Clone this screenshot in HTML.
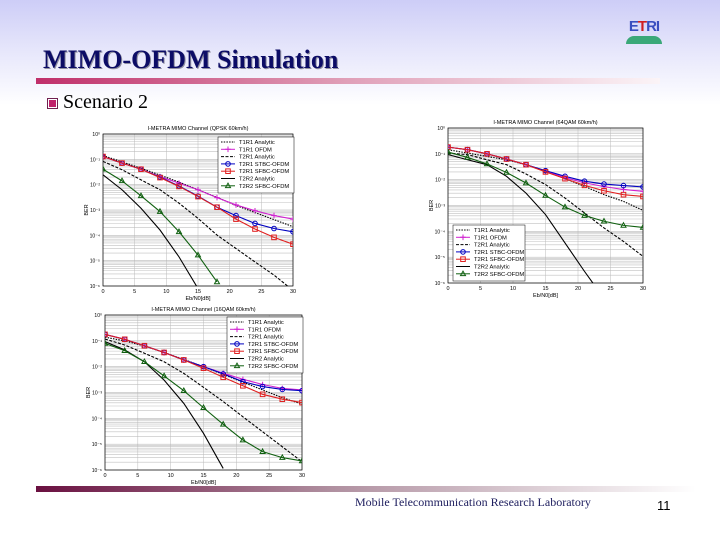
<!DOCTYPE html>
<html><head><meta charset="utf-8"><style>
body{margin:0;width:720px;height:540px;overflow:hidden;position:relative;background:linear-gradient(#cdcdf7 0px,#e6e6fb 50px,#fff 105px,#fff);font-family:"Liberation Serif",serif}
.abs{position:absolute}
</style></head><body>
<div class="abs" style="left:624px;top:20px;width:40px;height:24px">
 <div style="font:bold 15px 'Liberation Sans',sans-serif;color:#3a4fc0;letter-spacing:-1px;text-align:center;line-height:14px">E<span style="color:#d02020">T</span>RI</div>
 <div style="margin:2px auto 0;width:36px;height:8px;background:#3aa878;border-radius:18px 18px 0 0"></div>
</div>
<div class="abs" style="left:43px;top:45px;font:bold 26px 'Liberation Serif',serif;color:#0c0c66;text-shadow:1px 1px 0 #9090a0;white-space:nowrap">MIMO-OFDM Simulation</div>
<div class="abs" style="left:36px;top:78px;width:624px;height:6px;background:linear-gradient(90deg,#c02f6a,#e0a0b8 50%,#fbf4f7)"></div>
<div class="abs" style="left:47px;top:98px;width:9px;height:9px;border:1px solid #702050;background:#c0206a;box-shadow:inset 0 0 0 1px #fff"></div>
<div class="abs" style="left:63px;top:91px;font:20px 'Liberation Serif',serif;color:#000">Scenario 2</div>
<div class="abs" style="left:36px;top:486px;width:660px;height:6px;background:linear-gradient(90deg,#6a1040,#b090a0 45%,#fff)"></div>
<div class="abs" style="left:355px;top:495px;font:12px 'Liberation Serif',serif;color:#202060;white-space:nowrap">Mobile Telecommunication Research Laboratory</div>
<div class="abs" style="left:657px;top:498px;font:13px 'Liberation Sans',sans-serif;color:#000">11</div>
<svg id="svg" class="abs" style="left:0;top:0" width="720" height="540"></svg>
<script>
const xs=[0,3,6,9,12,15,18,21,24,27,30];
const xTicks=[0,5,10,15,20,25,30];
const yTicks=[0,-1,-2,-3,-4,-5,-6];
const names=["T1R1 Analytic","T1R1 OFDM","T2R1 Analytic","T2R1 STBC-OFDM","T2R1 SFBC-OFDM","T2R2 Analytic","T2R2 SFBC-OFDM"];
// chart 1 QPSK (log10 BER)
const q_t1a=[-0.85,-1.1,-1.35,-1.62,-1.9,-2.2,-2.5,-2.82,-3.1,-3.38,-3.66];
const q_t1o=[-0.89,-1.15,-1.39,-1.68,-1.94,-2.2,-2.51,-2.8,-3.03,-3.22,-3.36];
const q_t2a=[-1.08,-1.41,-1.81,-2.2,-2.73,-3.33,-3.99,-4.52,-5.05,-5.57,-6.17];
const q_stbc=[-0.89,-1.15,-1.39,-1.7,-2.05,-2.45,-2.89,-3.22,-3.53,-3.73,-3.86];
const q_sfbc=[-0.89,-1.15,-1.39,-1.72,-2.07,-2.47,-2.89,-3.36,-3.75,-4.08,-4.35];
const q_t22a=[-1.61,-2.2,-2.93,-3.79,-4.85,-6.1];
const q_t22s=[-1.39,-1.85,-2.44,-3.06,-3.86,-4.78,-5.84];
// chart 2 64QAM
const h_t1a=[-0.84,-0.97,-1.1,-1.23,-1.42,-1.68,-1.96,-2.26,-2.58,-2.84,-3.19];
const h_t1o=[-0.74,-0.84,-1.0,-1.2,-1.42,-1.67,-1.92,-2.12,-2.27,-2.38,-2.45];
const h_t2a=[-0.97,-1.03,-1.23,-1.42,-1.78,-2.19,-2.71,-3.29,-3.87,-4.39,-4.97];
const h_stbc=[-0.74,-0.84,-1.0,-1.2,-1.42,-1.65,-1.87,-2.06,-2.17,-2.23,-2.28];
const h_sfbc=[-0.74,-0.84,-1.0,-1.2,-1.42,-1.7,-1.96,-2.22,-2.43,-2.58,-2.65];
const h_t22a=[-1.03,-1.23,-1.42,-1.87,-2.52,-3.35,-4.45,-5.55,-6.6];
const h_t22s=[-0.93,-1.14,-1.39,-1.72,-2.13,-2.61,-3.06,-3.39,-3.61,-3.77,-3.85];
// chart 3 16QAM
const s_t1a=[-0.86,-1.0,-1.2,-1.45,-1.72,-2.0,-2.3,-2.6,-2.9,-3.2,-3.45];
const s_t1o=[-0.75,-0.94,-1.19,-1.45,-1.74,-2.0,-2.25,-2.49,-2.69,-2.84,-2.9];
const s_t2a=[-0.93,-1.16,-1.48,-1.81,-2.26,-2.8,-3.35,-3.94,-4.52,-5.1,-5.68];
const s_stbc=[-0.75,-0.94,-1.19,-1.45,-1.74,-2.0,-2.28,-2.58,-2.77,-2.88,-2.93];
const s_sfbc=[-0.75,-0.94,-1.19,-1.45,-1.74,-2.06,-2.41,-2.74,-3.07,-3.26,-3.39];
const s_t22a=[-1.03,-1.35,-1.81,-2.52,-3.42,-4.58,-5.94];
const s_t22s=[-1.1,-1.38,-1.81,-2.36,-2.93,-3.59,-4.23,-4.84,-5.29,-5.52,-5.65];

const NS="http://www.w3.org/2000/svg",svg=document.getElementById('svg');
function el(t,a,p){const e=document.createElementNS(NS,t);for(const k in a)e.setAttribute(k,a[k]);(p||svg).appendChild(e);return e;}
const styles=[
 {c:"#000",d:"1.5,1.2",m:null},{c:"#d020d0",d:null,m:"plus"},{c:"#000",d:"3,1.5",m:null},
 {c:"#0000c0",d:null,m:"circle"},{c:"#e02020",d:null,m:"square"},{c:"#000",d:null,m:"none"},{c:"#106010",d:null,m:"tri"}];
function chart(id,title,xlab,L,R,T,B,series,leg){
 const g=el('g',{});
 
 
 const sx=v=>L+(v-0)/30*(R-L), sy=v=>T+(-v)/6*(B-T);
 el('rect',{x:L,y:T,width:R-L,height:B-T,fill:'#fff'},g);
 for(let d=0;d<6;d++)for(let k=2;k<10;k++){const y=sy(-d-1+Math.log10(k));el('line',{x1:L,x2:R,y1:y,y2:y,stroke:'#c0c0c0','stroke-width':0.6},g);}
 xTicks.forEach(v=>{el('line',{x1:sx(v),x2:sx(v),y1:T,y2:B,stroke:'#bbb','stroke-width':0.5},g);
  const t=el('text',{x:sx(v),y:B+7,'font-size':5.5,'text-anchor':'middle','font-family':'Liberation Sans'},g);t.textContent=v;
  
  });
 yTicks.forEach(v=>{el('line',{x1:L,x2:R,y1:sy(v),y2:sy(v),stroke:'#aaa','stroke-width':0.5},g);
  const t=el('text',{x:L-3,y:sy(v)+2,'font-size':5,'text-anchor':'end','font-family':'Liberation Sans'},g);t.textContent='10'+(v==0?'⁰':'⁻'+'⁰¹²³⁴⁵⁶'[-v]);
  
  });
 el('rect',{x:L,y:T,width:R-L,height:B-T,fill:'none',stroke:'#000','stroke-width':0.7},g);
 let t=el('text',{x:(L+R)/2,y:T-4,'font-size':5.5,'text-anchor':'middle','font-family':'Liberation Sans'},g);t.textContent=title;
 
 
 t=el('text',{x:(L+R)/2,y:B+14,'font-size':5.5,'text-anchor':'middle','font-family':'Liberation Sans'},g);t.textContent=xlab;
 
 
 t=el('text',{x:L-15,y:(T+B)/2,'font-size':5.5,'text-anchor':'middle','font-family':'Liberation Sans',transform:`rotate(-90 ${L-15} ${(T+B)/2})`},g);t.textContent='BER';
 
 
 const clip=el('clipPath',{id:'c'+id},g);el('rect',{x:L,y:T,width:R-L,height:B-T},clip);
 function marker(m,x,y,c,p){
  if(m=='plus'){el('path',{d:`M${x-2.8},${y}h5.6M${x},${y-2.8}v5.6`,stroke:c,'stroke-width':1},p);}
  else if(m=='circle')el('circle',{cx:x,cy:y,r:2.3,fill:'none',stroke:c,'stroke-width':1},p);
  else if(m=='square')el('rect',{x:x-2.3,y:y-2.3,width:4.6,height:4.6,fill:'none',stroke:c,'stroke-width':1},p);
  else if(m=='tri')el('path',{d:`M${x},${y-2.7}L${x+2.5},${y+1.8}L${x-2.5},${y+1.8}Z`,fill:'none',stroke:c,'stroke-width':1},p);
 }
 series.forEach((s,i)=>{const st=styles[i];
  const sg=el('g',{'clip-path':`url(#c${id})`},g);
  
  
  const pts=s.map((v,j)=>sx(xs[j])+','+sy(v)).join(' ');
  const a={points:pts,fill:'none',stroke:st.c,'stroke-width':1.1};if(st.d)a['stroke-dasharray']=st.d;
  el('polyline',a,sg);
  s.forEach((v,j)=>marker(st.m,sx(xs[j]),sy(v),st.c,sg));});
 const lg=el('g',{},g);
 
 
 el('rect',{x:leg[0],y:leg[1],width:leg[2],height:56,fill:'#fff',stroke:'#000','stroke-width':0.5},lg);
 names.forEach((n,i)=>{const st=styles[i],y=leg[1]+5+i*7.3,x=leg[0]+3;
  const a={x1:x,x2:x+14,y1:y,y2:y,stroke:st.c,'stroke-width':1};if(st.d)a['stroke-dasharray']=st.d;
  el('line',a,lg);marker(st.m,x+7,y,st.c,lg);
  const tt=el('text',{x:x+18,y:y+2,'font-size':5.8,'font-family':'Liberation Sans'},lg);tt.textContent=n;
  
  });
}
chart('chart-qpsk','I-METRA MIMO Channel (QPSK 60km/h)','Eb/N0[dB]',103,293,134,286,[q_t1a,q_t1o,q_t2a,q_stbc,q_sfbc,q_t22a,q_t22s],[218,137,76]);
chart('chart-64qam','I-METRA MIMO Channel (64QAM 60km/h)','Eb/N0[dB]',448,643,128,283,[h_t1a,h_t1o,h_t2a,h_stbc,h_sfbc,h_t22a,h_t22s],[453,225,72]);
chart('chart-16qam','I-METRA MIMO Channel (16QAM 60km/h)','Eb/N0[dB]',105,302,315,470,[s_t1a,s_t1o,s_t2a,s_stbc,s_sfbc,s_t22a,s_t22s],[227,317,76]);
</script>
</body></html>
